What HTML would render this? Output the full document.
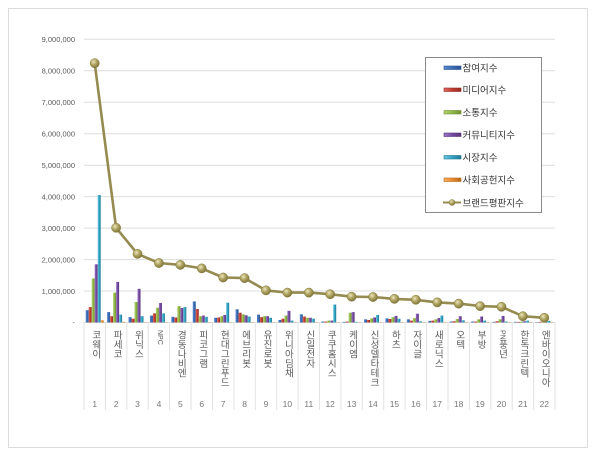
<!DOCTYPE html>
<html><head><meta charset="utf-8">
<style>
html,body{margin:0;padding:0;background:#fff;}
#wrap{position:relative;width:600px;height:458px;overflow:hidden;background:#fff;}
.frame{position:absolute;left:8px;top:8px;width:580px;height:440px;border:1px solid #dcdcdc;box-sizing:border-box;}
.lbl{position:absolute;top:330px;writing-mode:vertical-rl;text-orientation:mixed;font-family:"Liberation Sans","Noto Sans CJK KR",sans-serif;font-size:9.5px;line-height:12px;color:#595959;width:12px;white-space:nowrap;}
.sm{font-size:7px;}
</style></head><body><div id="wrap">
<div class="frame"></div>
<svg width="600" height="458" style="position:absolute;left:0;top:0" xmlns="http://www.w3.org/2000/svg">
<defs>
<linearGradient id="gb" x1="0" x2="1" y1="0" y2="0"><stop offset="0" stop-color="#5a8ad0"/><stop offset="0.5" stop-color="#3b6db5"/><stop offset="1" stop-color="#2a5290"/></linearGradient>
<linearGradient id="gr" x1="0" x2="1" y1="0" y2="0"><stop offset="0" stop-color="#e06a60"/><stop offset="0.5" stop-color="#c23b30"/><stop offset="1" stop-color="#922a22"/></linearGradient>
<linearGradient id="gg" x1="0" x2="1" y1="0" y2="0"><stop offset="0" stop-color="#b2d470"/><stop offset="0.5" stop-color="#8fb845"/><stop offset="1" stop-color="#6e9030"/></linearGradient>
<linearGradient id="gp" x1="0" x2="1" y1="0" y2="0"><stop offset="0" stop-color="#9a78c4"/><stop offset="0.5" stop-color="#7549a2"/><stop offset="1" stop-color="#573578"/></linearGradient>
<linearGradient id="gc" x1="0" x2="1" y1="0" y2="0"><stop offset="0" stop-color="#6cc8e0"/><stop offset="0.5" stop-color="#30a3c2"/><stop offset="1" stop-color="#207a93"/></linearGradient>
<linearGradient id="go" x1="0" x2="1" y1="0" y2="0"><stop offset="0" stop-color="#fbb060"/><stop offset="0.5" stop-color="#ea8a2a"/><stop offset="1" stop-color="#b8661a"/></linearGradient>
<radialGradient id="mk" cx="0.38" cy="0.35" r="0.7"><stop offset="0" stop-color="#ece6c0"/><stop offset="0.45" stop-color="#b3a866"/><stop offset="1" stop-color="#7a7034"/></radialGradient>
</defs>
<g stroke="#dedede" stroke-width="1">
<line x1="84" x2="555" y1="39.3" y2="39.3"/>
<line x1="84" x2="555" y1="70.8" y2="70.8"/>
<line x1="84" x2="555" y1="102.2" y2="102.2"/>
<line x1="84" x2="555" y1="133.7" y2="133.7"/>
<line x1="84" x2="555" y1="165.2" y2="165.2"/>
<line x1="84" x2="555" y1="196.6" y2="196.6"/>
<line x1="84" x2="555" y1="228.1" y2="228.1"/>
<line x1="84" x2="555" y1="259.6" y2="259.6"/>
<line x1="84" x2="555" y1="291.0" y2="291.0"/>
<line x1="84" x2="555" y1="322.5" y2="322.5"/>
</g>
<g stroke="#e2e2e2" stroke-width="1">
<line x1="84" x2="84" y1="322" y2="410"/>
<line x1="105.4" x2="105.4" y1="322" y2="410"/>
<line x1="126.8" x2="126.8" y1="322" y2="410"/>
<line x1="148.2" x2="148.2" y1="322" y2="410"/>
<line x1="169.6" x2="169.6" y1="322" y2="410"/>
<line x1="191.0" x2="191.0" y1="322" y2="410"/>
<line x1="212.5" x2="212.5" y1="322" y2="410"/>
<line x1="233.9" x2="233.9" y1="322" y2="410"/>
<line x1="255.3" x2="255.3" y1="322" y2="410"/>
<line x1="276.7" x2="276.7" y1="322" y2="410"/>
<line x1="298.1" x2="298.1" y1="322" y2="410"/>
<line x1="319.5" x2="319.5" y1="322" y2="410"/>
<line x1="340.9" x2="340.9" y1="322" y2="410"/>
<line x1="362.3" x2="362.3" y1="322" y2="410"/>
<line x1="383.7" x2="383.7" y1="322" y2="410"/>
<line x1="405.1" x2="405.1" y1="322" y2="410"/>
<line x1="426.5" x2="426.5" y1="322" y2="410"/>
<line x1="448.0" x2="448.0" y1="322" y2="410"/>
<line x1="469.4" x2="469.4" y1="322" y2="410"/>
<line x1="490.8" x2="490.8" y1="322" y2="410"/>
<line x1="512.2" x2="512.2" y1="322" y2="410"/>
<line x1="533.6" x2="533.6" y1="322" y2="410"/>
<line x1="555" x2="555" y1="322" y2="410"/>
</g>
<g font-family="Liberation Sans, sans-serif" font-size="7.5" fill="#595959" text-anchor="end">
<text x="75" y="42">9,000,000</text>
<text x="75" y="73.5">8,000,000</text>
<text x="75" y="105">7,000,000</text>
<text x="75" y="136.5">6,000,000</text>
<text x="75" y="168">5,000,000</text>
<text x="75" y="199.5">4,000,000</text>
<text x="75" y="231">3,000,000</text>
<text x="75" y="262.5">2,000,000</text>
<text x="75" y="294">1,000,000</text>
<text x="75" y="325">-</text>
</g>
<g>
<g transform="translate(94.70,322.5) scale(1,-31.47)"><rect x="-9" width="3" height="0.39" fill="url(#gb)"/><rect x="-6" width="3" height="0.49" fill="url(#gr)"/><rect x="-3" width="3" height="1.40" fill="url(#gg)"/><rect x="0" width="3" height="1.85" fill="url(#gp)"/><rect x="3" width="3" height="4.05" fill="url(#gc)"/><rect x="6" width="3" height="0.07" fill="url(#go)"/></g>
<g transform="translate(116.11,322.5) scale(1,-31.47)"><rect x="-9" width="3" height="0.33" fill="url(#gb)"/><rect x="-6" width="3" height="0.20" fill="url(#gr)"/><rect x="-3" width="3" height="0.95" fill="url(#gg)"/><rect x="0" width="3" height="1.29" fill="url(#gp)"/><rect x="3" width="3" height="0.25" fill="url(#gc)"/><rect x="6" width="3" height="0.02" fill="url(#go)"/></g>
<g transform="translate(137.52,322.5) scale(1,-31.47)"><rect x="-9" width="3" height="0.17" fill="url(#gb)"/><rect x="-6" width="3" height="0.12" fill="url(#gr)"/><rect x="-3" width="3" height="0.65" fill="url(#gg)"/><rect x="0" width="3" height="1.07" fill="url(#gp)"/><rect x="3" width="3" height="0.20" fill="url(#gc)"/><rect x="6" width="3" height="0.01" fill="url(#go)"/></g>
<g transform="translate(158.93,322.5) scale(1,-31.47)"><rect x="-9" width="3" height="0.22" fill="url(#gb)"/><rect x="-6" width="3" height="0.29" fill="url(#gr)"/><rect x="-3" width="3" height="0.47" fill="url(#gg)"/><rect x="0" width="3" height="0.62" fill="url(#gp)"/><rect x="3" width="3" height="0.29" fill="url(#gc)"/><rect x="6" width="3" height="0.01" fill="url(#go)"/></g>
<g transform="translate(180.34,322.5) scale(1,-31.47)"><rect x="-9" width="3" height="0.18" fill="url(#gb)"/><rect x="-6" width="3" height="0.16" fill="url(#gr)"/><rect x="-3" width="3" height="0.52" fill="url(#gg)"/><rect x="0" width="3" height="0.46" fill="url(#gp)"/><rect x="3" width="3" height="0.49" fill="url(#gc)"/><rect x="6" width="3" height="0.01" fill="url(#go)"/></g>
<g transform="translate(201.75,322.5) scale(1,-31.47)"><rect x="-9" width="3" height="0.67" fill="url(#gb)"/><rect x="-6" width="3" height="0.43" fill="url(#gr)"/><rect x="-3" width="3" height="0.20" fill="url(#gg)"/><rect x="0" width="3" height="0.22" fill="url(#gp)"/><rect x="3" width="3" height="0.18" fill="url(#gc)"/><rect x="6" width="3" height="0.01" fill="url(#go)"/></g>
<g transform="translate(223.16,322.5) scale(1,-31.47)"><rect x="-9" width="3" height="0.15" fill="url(#gb)"/><rect x="-6" width="3" height="0.16" fill="url(#gr)"/><rect x="-3" width="3" height="0.20" fill="url(#gg)"/><rect x="0" width="3" height="0.24" fill="url(#gp)"/><rect x="3" width="3" height="0.63" fill="url(#gc)"/><rect x="6" width="3" height="0.01" fill="url(#go)"/></g>
<g transform="translate(244.57,322.5) scale(1,-31.47)"><rect x="-9" width="3" height="0.42" fill="url(#gb)"/><rect x="-6" width="3" height="0.31" fill="url(#gr)"/><rect x="-3" width="3" height="0.26" fill="url(#gg)"/><rect x="0" width="3" height="0.23" fill="url(#gp)"/><rect x="3" width="3" height="0.19" fill="url(#gc)"/><rect x="6" width="3" height="0.01" fill="url(#go)"/></g>
<g transform="translate(265.98,322.5) scale(1,-31.47)"><rect x="-9" width="3" height="0.25" fill="url(#gb)"/><rect x="-6" width="3" height="0.17" fill="url(#gr)"/><rect x="-3" width="3" height="0.20" fill="url(#gg)"/><rect x="0" width="3" height="0.20" fill="url(#gp)"/><rect x="3" width="3" height="0.15" fill="url(#gc)"/><rect x="6" width="3" height="0.01" fill="url(#go)"/></g>
<g transform="translate(287.39,322.5) scale(1,-31.47)"><rect x="-9" width="3" height="0.08" fill="url(#gb)"/><rect x="-6" width="3" height="0.12" fill="url(#gr)"/><rect x="-3" width="3" height="0.22" fill="url(#gg)"/><rect x="0" width="3" height="0.37" fill="url(#gp)"/><rect x="3" width="3" height="0.06" fill="url(#gc)"/><rect x="6" width="3" height="0.01" fill="url(#go)"/></g>
<g transform="translate(308.80,322.5) scale(1,-31.47)"><rect x="-9" width="3" height="0.26" fill="url(#gb)"/><rect x="-6" width="3" height="0.19" fill="url(#gr)"/><rect x="-3" width="3" height="0.15" fill="url(#gg)"/><rect x="0" width="3" height="0.15" fill="url(#gp)"/><rect x="3" width="3" height="0.12" fill="url(#gc)"/><rect x="6" width="3" height="0.01" fill="url(#go)"/></g>
<g transform="translate(330.20,322.5) scale(1,-31.47)"><rect x="-9" width="3" height="0.03" fill="url(#gb)"/><rect x="-6" width="3" height="0.03" fill="url(#gr)"/><rect x="-3" width="3" height="0.06" fill="url(#gg)"/><rect x="0" width="3" height="0.06" fill="url(#gp)"/><rect x="3" width="3" height="0.57" fill="url(#gc)"/><rect x="6" width="3" height="0.01" fill="url(#go)"/></g>
<g transform="translate(351.61,322.5) scale(1,-31.47)"><rect x="-9" width="3" height="0.02" fill="url(#gb)"/><rect x="-6" width="3" height="0.03" fill="url(#gr)"/><rect x="-3" width="3" height="0.31" fill="url(#gg)"/><rect x="0" width="3" height="0.33" fill="url(#gp)"/><rect x="3" width="3" height="0.02" fill="url(#gc)"/><rect x="6" width="3" height="0.01" fill="url(#go)"/></g>
<g transform="translate(373.02,322.5) scale(1,-31.47)"><rect x="-9" width="3" height="0.10" fill="url(#gb)"/><rect x="-6" width="3" height="0.08" fill="url(#gr)"/><rect x="-3" width="3" height="0.13" fill="url(#gg)"/><rect x="0" width="3" height="0.16" fill="url(#gp)"/><rect x="3" width="3" height="0.24" fill="url(#gc)"/><rect x="6" width="3" height="0.01" fill="url(#go)"/></g>
<g transform="translate(394.43,322.5) scale(1,-31.47)"><rect x="-9" width="3" height="0.13" fill="url(#gb)"/><rect x="-6" width="3" height="0.11" fill="url(#gr)"/><rect x="-3" width="3" height="0.17" fill="url(#gg)"/><rect x="0" width="3" height="0.21" fill="url(#gp)"/><rect x="3" width="3" height="0.12" fill="url(#gc)"/><rect x="6" width="3" height="0.01" fill="url(#go)"/></g>
<g transform="translate(415.84,322.5) scale(1,-31.47)"><rect x="-9" width="3" height="0.10" fill="url(#gb)"/><rect x="-6" width="3" height="0.06" fill="url(#gr)"/><rect x="-3" width="3" height="0.14" fill="url(#gg)"/><rect x="0" width="3" height="0.28" fill="url(#gp)"/><rect x="3" width="3" height="0.04" fill="url(#gc)"/><rect x="6" width="3" height="0.01" fill="url(#go)"/></g>
<g transform="translate(437.25,322.5) scale(1,-31.47)"><rect x="-9" width="3" height="0.05" fill="url(#gb)"/><rect x="-6" width="3" height="0.06" fill="url(#gr)"/><rect x="-3" width="3" height="0.10" fill="url(#gg)"/><rect x="0" width="3" height="0.14" fill="url(#gp)"/><rect x="3" width="3" height="0.22" fill="url(#gc)"/><rect x="6" width="3" height="0.01" fill="url(#go)"/></g>
<g transform="translate(458.66,322.5) scale(1,-31.47)"><rect x="-9" width="3" height="0.03" fill="url(#gb)"/><rect x="-6" width="3" height="0.04" fill="url(#gr)"/><rect x="-3" width="3" height="0.11" fill="url(#gg)"/><rect x="0" width="3" height="0.20" fill="url(#gp)"/><rect x="3" width="3" height="0.07" fill="url(#gc)"/><rect x="6" width="3" height="0.01" fill="url(#go)"/></g>
<g transform="translate(480.07,322.5) scale(1,-31.47)"><rect x="-9" width="3" height="0.03" fill="url(#gb)"/><rect x="-6" width="3" height="0.03" fill="url(#gr)"/><rect x="-3" width="3" height="0.10" fill="url(#gg)"/><rect x="0" width="3" height="0.19" fill="url(#gp)"/><rect x="3" width="3" height="0.06" fill="url(#gc)"/><rect x="6" width="3" height="0.01" fill="url(#go)"/></g>
<g transform="translate(501.48,322.5) scale(1,-31.47)"><rect x="-9" width="3" height="0.02" fill="url(#gb)"/><rect x="-6" width="3" height="0.04" fill="url(#gr)"/><rect x="-3" width="3" height="0.10" fill="url(#gg)"/><rect x="0" width="3" height="0.21" fill="url(#gp)"/><rect x="3" width="3" height="0.03" fill="url(#gc)"/><rect x="6" width="3" height="0.01" fill="url(#go)"/></g>
<g transform="translate(522.89,322.5) scale(1,-31.47)"><rect x="-9" width="3" height="0.02" fill="url(#gb)"/><rect x="-6" width="3" height="0.02" fill="url(#gr)"/><rect x="-3" width="3" height="0.03" fill="url(#gg)"/><rect x="0" width="3" height="0.04" fill="url(#gp)"/><rect x="3" width="3" height="0.06" fill="url(#gc)"/><rect x="6" width="3" height="0.01" fill="url(#go)"/></g>
<g transform="translate(544.30,322.5) scale(1,-31.47)"><rect x="-9" width="3" height="0.01" fill="url(#gb)"/><rect x="-6" width="3" height="0.02" fill="url(#gr)"/><rect x="-3" width="3" height="0.02" fill="url(#gg)"/><rect x="0" width="3" height="0.03" fill="url(#gp)"/><rect x="3" width="3" height="0.05" fill="url(#gc)"/><rect x="6" width="3" height="0.01" fill="url(#go)"/></g>
</g>
<polyline fill="none" stroke="#958b50" stroke-width="2.6" stroke-linejoin="round" points="94.70,63.2 116.11,227.8 137.52,253.9 158.93,263.0 180.34,264.9 201.75,268.4 223.16,277.5 244.57,278.1 265.98,290.4 287.39,292.6 308.80,292.6 330.20,294.2 351.61,296.7 373.02,297.0 394.43,298.9 415.84,299.8 437.25,302.4 458.66,303.6 480.07,306.1 501.48,306.8 522.89,316.2 544.30,317.8"/>
<g fill="url(#mk)" stroke="#857a3c" stroke-width="0.5">
<circle cx="94.70" cy="63.2" r="4.6"/><circle cx="116.11" cy="227.8" r="4.6"/><circle cx="137.52" cy="253.9" r="4.6"/><circle cx="158.93" cy="263.0" r="4.6"/><circle cx="180.34" cy="264.9" r="4.6"/><circle cx="201.75" cy="268.4" r="4.6"/><circle cx="223.16" cy="277.5" r="4.6"/><circle cx="244.57" cy="278.1" r="4.6"/><circle cx="265.98" cy="290.4" r="4.6"/><circle cx="287.39" cy="292.6" r="4.6"/><circle cx="308.80" cy="292.6" r="4.6"/><circle cx="330.20" cy="294.2" r="4.6"/><circle cx="351.61" cy="296.7" r="4.6"/><circle cx="373.02" cy="297.0" r="4.6"/><circle cx="394.43" cy="298.9" r="4.6"/><circle cx="415.84" cy="299.8" r="4.6"/><circle cx="437.25" cy="302.4" r="4.6"/><circle cx="458.66" cy="303.6" r="4.6"/><circle cx="480.07" cy="306.1" r="4.6"/><circle cx="501.48" cy="306.8" r="4.6"/><circle cx="522.89" cy="316.2" r="4.6"/><circle cx="544.30" cy="317.8" r="4.6"/>
</g>
<g font-family="Liberation Sans, sans-serif" font-size="8.5" fill="#777" text-anchor="middle">
<text x="94.70" y="407">1</text><text x="116.11" y="407">2</text><text x="137.52" y="407">3</text><text x="158.93" y="407">4</text><text x="180.34" y="407">5</text><text x="201.75" y="407">6</text><text x="223.16" y="407">7</text><text x="244.57" y="407">8</text><text x="265.98" y="407">9</text><text x="287.39" y="407">10</text><text x="308.80" y="407">11</text><text x="330.20" y="407">12</text><text x="351.61" y="407">13</text><text x="373.02" y="407">14</text><text x="394.43" y="407">15</text><text x="415.84" y="407">16</text><text x="437.25" y="407">17</text><text x="458.66" y="407">18</text><text x="480.07" y="407">19</text><text x="501.48" y="407">20</text><text x="522.89" y="407">21</text><text x="544.30" y="407">22</text>
</g>
<rect x="425.5" y="57.5" width="116" height="155" fill="#fff" stroke="#8a8a8a" stroke-width="1"/>
<g stroke-width="0.6">
<rect x="444" y="66" width="17" height="3.5" fill="url(#gb)" stroke="#2a5290"/>
<rect x="444" y="88" width="17" height="3.5" fill="url(#gr)" stroke="#922a22"/>
<rect x="444" y="110.5" width="17" height="3.5" fill="url(#gg)" stroke="#6e9030"/>
<rect x="444" y="133" width="17" height="3.5" fill="url(#gp)" stroke="#573578"/>
<rect x="444" y="155.5" width="17" height="3.5" fill="url(#gc)" stroke="#207a93"/>
<rect x="444" y="178" width="17" height="3.5" fill="url(#go)" stroke="#b8661a"/>
</g>
<line x1="443" x2="461" y1="202.5" y2="202.5" stroke="#958b50" stroke-width="2"/>
<circle cx="452" cy="202.5" r="3" fill="url(#mk)" stroke="#857a3c" stroke-width="0.5"/>
<g font-family="Liberation Sans, Noto Sans CJK KR, sans-serif" font-size="9.5" fill="#333">
<text x="462.5" y="71.5">참여지수</text>
<text x="462.5" y="93.5">미디어지수</text>
<text x="462.5" y="116">소통지수</text>
<text x="462.5" y="138.5">커뮤니티지수</text>
<text x="462.5" y="161">시장지수</text>
<text x="462.5" y="183.5">사회공헌지수</text>
<text x="462.5" y="206.5">브랜드평판지수</text>
</g>
</svg>
<div class="lbl" style="left:88.7px">코웨이</div>
<div class="lbl" style="left:110.1px">파세코</div>
<div class="lbl" style="left:131.5px">위닉스</div>
<div class="lbl sm" style="left:152.9px">NPC</div>
<div class="lbl" style="left:174.3px">경동나비엔</div>
<div class="lbl" style="left:195.8px">피코그램</div>
<div class="lbl" style="left:217.2px">현대그린푸드</div>
<div class="lbl" style="left:238.6px">에브리봇</div>
<div class="lbl" style="left:260.0px">유진로봇</div>
<div class="lbl" style="left:281.4px">위니아딤채</div>
<div class="lbl" style="left:302.8px">신일전자</div>
<div class="lbl" style="left:324.2px">쿠쿠홈시스</div>
<div class="lbl" style="left:345.6px">케이엠</div>
<div class="lbl" style="left:367.0px">신성델타테크</div>
<div class="lbl" style="left:388.4px">하츠</div>
<div class="lbl" style="left:409.8px">자이글</div>
<div class="lbl" style="left:431.3px">새로닉스</div>
<div class="lbl" style="left:452.7px">오텍</div>
<div class="lbl" style="left:474.1px">부방</div>
<div class="lbl" style="left:495.5px"><span style="font-size:7px">PN</span>풍년</div>
<div class="lbl" style="left:516.9px">한독크린텍</div>
<div class="lbl" style="left:538.3px">엔바이오니아</div>
</div></body></html>
